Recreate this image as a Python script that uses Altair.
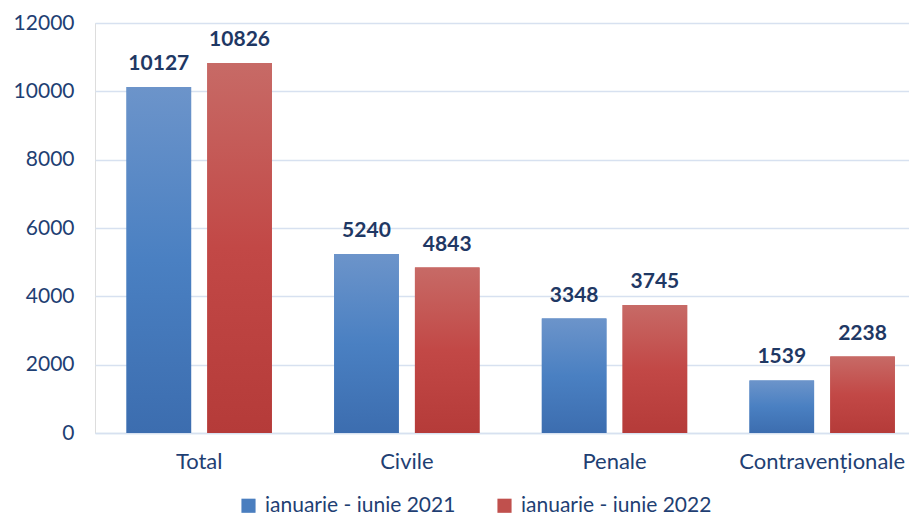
import altair as alt
import pandas as pd

categories = ["Total", "Civile", "Penale", "Contravenționale"]
series = ["ianuarie - iunie 2021", "ianuarie - iunie 2022"]
values_2021 = [10127, 5240, 3348, 1539]
values_2022 = [10826, 4843, 3745, 2238]
y_ticks = [0, 2000, 4000, 6000, 8000, 10000, 12000]

rows = []
for c, a, b in zip(categories, values_2021, values_2022):
    rows.append({"cat": c, "series": series[0], "value": a})
    rows.append({"cat": c, "series": series[1], "value": b})
df = pd.DataFrame(rows)

TXT = "#1F3F73"
GRID = "#D7E1F0"

x = alt.X(
    "cat:N", sort=categories,
    scale=alt.Scale(domain=categories, paddingInner=0.3, paddingOuter=0.11, align=0.69),
    axis=alt.Axis(title=None, labelAngle=0, ticks=False, domain=True, domainColor=GRID,
                  domainWidth=1.5, labelFontSize=22, labelPadding=18, labelColor=TXT),
)
xo = alt.XOffset("series:N", sort=series,
                 scale=alt.Scale(domain=series, paddingInner=0.2, paddingOuter=0))
y = alt.Y(
    "value:Q",
    scale=alt.Scale(domain=[0, 12000], nice=False),
    axis=alt.Axis(values=y_ticks, format="d", title=None, ticks=False, domain=False,
                  labelFontSize=21, labelPadding=21, gridColor=GRID, gridWidth=1.5,
                  labelColor=TXT),
)

base = alt.Chart(df).encode(x=x, xOffset=xo, y=y)

solid = base.mark_bar().encode(
    color=alt.Color(
        "series:N", sort=series,
        scale=alt.Scale(domain=series, range=["#4A7EBF", "#C0504D"]),
        legend=alt.Legend(
            title=None, orient="none", legendX=143, legendY=472, direction="horizontal",
            symbolType="square", symbolSize=200, symbolStrokeWidth=0, labelFontSize=21,
            labelColor=TXT, labelLimit=400, columnPadding=38, labelOffset=6,
        ),
    )
)

grad_blue = alt.Gradient(
    gradient="linear", x1=0, y1=0, x2=0, y2=1,
    stops=[alt.GradientStop(color="#6C94CA", offset=0),
           alt.GradientStop(color="#4A80C2", offset=0.5),
           alt.GradientStop(color="#3C6DAF", offset=1)],
)
grad_red = alt.Gradient(
    gradient="linear", x1=0, y1=0, x2=0, y2=1,
    stops=[alt.GradientStop(color="#C76A66", offset=0),
           alt.GradientStop(color="#C24846", offset=0.5),
           alt.GradientStop(color="#B53B39", offset=1)],
)

blue = base.transform_filter(alt.datum.series == series[0]).mark_bar(fill=grad_blue)
red = base.transform_filter(alt.datum.series == series[1]).mark_bar(fill=grad_red)

labels = base.mark_text(
    baseline="bottom", dy=-13, fontSize=21, fontWeight="bold", color="#1F3864"
).encode(text=alt.Text("value:Q", format="d"))

chart = (
    alt.layer(solid, blue, red, labels)
    .properties(width=814, height=410,
                autosize=alt.AutoSizeParams(type="none"),
                padding={"left": 87, "top": 15, "right": 0, "bottom": 85})
    .configure_view(stroke=None)
    .configure(font="Lato")
)

chart.save("out.html", embed_options={"renderer": "svg", "actions": False})
